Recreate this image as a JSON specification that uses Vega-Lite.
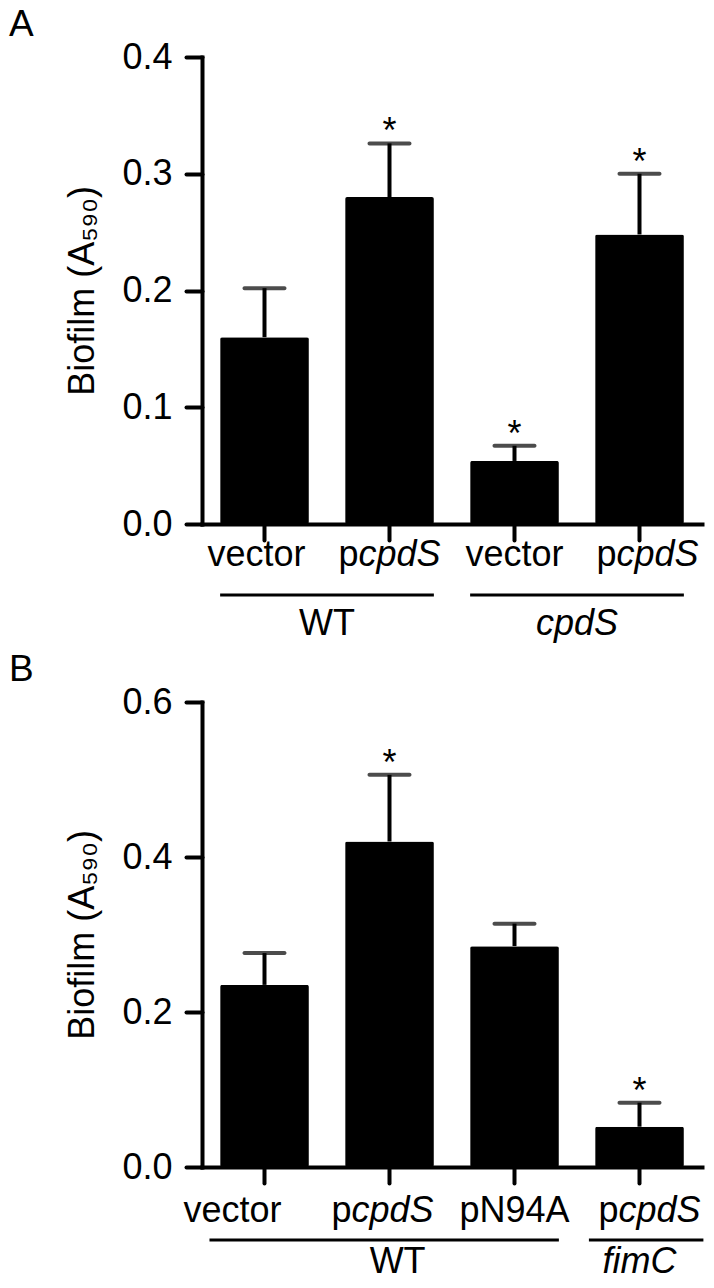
{
  "$schema": "https://vega.github.io/schema/vega-lite/v6.json",
  "background": "white",
  "padding": {"left": 8, "top": 6, "right": 4, "bottom": 0},
  "spacing": 9,
  "config": {
    "font": "Liberation Sans",
    "view": {"stroke": null},
    "axis": {
      "grid": false,
      "domainColor": "black",
      "domainWidth": 4,
      "domainCap": "square",
      "tickColor": "black",
      "tickWidth": 4,
      "tickSize": 16,
      "tickCap": "round",
      "labelFont": "Liberation Sans",
      "labelFontSize": 36,
      "labelColor": "black",
      "titleFont": "Liberation Sans",
      "titleFontSize": 36,
      "titleFontWeight": "normal",
      "titleColor": "black"
    },
    "axisX": {"labels": false, "title": null},
    "axisY": {"labelPadding": 14, "titlePadding": 20},
    "text": {"font": "Liberation Sans", "fontSize": 36, "color": "black"},
    "title": {"font": "Liberation Sans", "fontSize": 37, "fontWeight": "normal", "color": "black"}
  },
  "datasets": {
    "a": [
      {"id": "A1", "plain": "vector", "ital": "", "mean": 0.160, "err": 0.202, "sig": ""},
      {"id": "A2", "plain": "p", "ital": "cpdS", "mean": 0.280, "err": 0.326, "sig": "*"},
      {"id": "A3", "plain": "vector", "ital": "", "mean": 0.054, "err": 0.067, "sig": "*"},
      {"id": "A4", "plain": "p", "ital": "cpdS", "mean": 0.248, "err": 0.300, "sig": "*"}
    ],
    "ga": [
      {"group": "WT", "first": "A1", "last": "A2"},
      {"group": "cpdS", "first": "A3", "last": "A4"}
    ],
    "b": [
      {"id": "B1", "plain": "vector", "ital": "", "mean": 0.235, "err": 0.276, "sig": ""},
      {"id": "B2", "plain": "p", "ital": "cpdS", "mean": 0.420, "err": 0.506, "sig": "*"},
      {"id": "B3", "plain": "pN94A", "ital": "", "mean": 0.285, "err": 0.314, "sig": ""},
      {"id": "B4", "plain": "p", "ital": "cpdS", "mean": 0.052, "err": 0.083, "sig": "*"}
    ],
    "gb": [
      {"group": "WT", "first": "B1", "last": "B3"},
      {"group": "fimC", "first": "B4", "last": "B4"}
    ]
  },
  "vconcat": [
    {
      "title": {"text": "A", "anchor": "start", "frame": "bounds", "dx": -56, "offset": -5},
      "width": 500,
      "height": 467,
      "layer": [
        {
          "data": {"name": "a"},
          "mark": {"type": "bar", "color": "black", "cornerRadius": 2},
          "encoding": {
            "x": {"field": "id", "type": "nominal", "title": null, "scale": {"domain": ["A1", "A2", "A3", "A4"], "paddingInner": 0.29, "paddingOuter": 0.145}},
            "y": {"field": "mean", "type": "quantitative", "title": "Biofilm (A₅₉₀)", "scale": {"domain": [0, 0.4], "nice": false}, "axis": {"values": [0, 0.1, 0.2, 0.3, 0.4], "format": ".1f"}}
          }
        },
        {
          "data": {"name": "a"},
          "mark": {"type": "rule", "color": "black", "strokeWidth": 4},
          "encoding": {
            "x": {"field": "id", "type": "nominal", "title": null},
            "y": {"field": "mean", "type": "quantitative", "title": "Biofilm (A₅₉₀)"},
            "y2": {"field": "err"}
          }
        },
        {
          "data": {"name": "a"},
          "mark": {"type": "tick", "color": "black", "size": 44, "thickness": 4, "cornerRadius": 2},
          "encoding": {
            "x": {"field": "id", "type": "nominal", "title": null},
            "y": {"field": "err", "type": "quantitative", "title": "Biofilm (A₅₉₀)"}
          }
        },
        {
          "data": {"name": "a"},
          "transform": [{"filter": "datum.sig != ''"}],
          "mark": {"type": "text", "baseline": "alphabetic", "dy": 0},
          "encoding": {
            "x": {"field": "id", "type": "nominal", "title": null},
            "y": {"field": "err", "type": "quantitative", "title": "Biofilm (A₅₉₀)"},
            "text": {"field": "sig"}
          }
        },
        {
          "data": {"name": "a"},
          "transform": [{"filter": "datum.ital == '' && datum.id != 'A1'"}],
          "mark": {"type": "text", "baseline": "alphabetic", "dy": 42},
          "encoding": {
            "x": {"field": "id", "type": "nominal", "title": null},
            "y": {"datum": 0, "type": "quantitative"},
            "text": {"field": "plain"}
          }
        },
        {
          "data": {"name": "a"},
          "transform": [{"filter": "datum.id == 'A1'"}],
          "mark": {"type": "text", "baseline": "alphabetic", "dy": 42, "dx": -8},
          "encoding": {
            "x": {"field": "id", "type": "nominal", "title": null},
            "y": {"datum": 0, "type": "quantitative"},
            "text": {"field": "plain"}
          }
        },
        {
          "data": {"name": "a"},
          "transform": [{"filter": "datum.id == 'A2'"}],
          "mark": {"type": "text", "baseline": "alphabetic", "dy": 42, "align": "right", "dx": -31},
          "encoding": {
            "x": {"field": "id", "type": "nominal", "title": null},
            "y": {"datum": 0, "type": "quantitative"},
            "text": {"field": "plain"}
          }
        },
        {
          "data": {"name": "a"},
          "transform": [{"filter": "datum.id == 'A2'"}],
          "mark": {"type": "text", "baseline": "alphabetic", "dy": 42, "align": "left", "dx": -31, "fontStyle": "italic"},
          "encoding": {
            "x": {"field": "id", "type": "nominal", "title": null},
            "y": {"datum": 0, "type": "quantitative"},
            "text": {"field": "ital"}
          }
        },
        {
          "data": {"name": "a"},
          "transform": [{"filter": "datum.id == 'A4'"}],
          "mark": {"type": "text", "baseline": "alphabetic", "dy": 42, "align": "right", "dx": -23},
          "encoding": {
            "x": {"field": "id", "type": "nominal", "title": null},
            "y": {"datum": 0, "type": "quantitative"},
            "text": {"field": "plain"}
          }
        },
        {
          "data": {"name": "a"},
          "transform": [{"filter": "datum.id == 'A4'"}],
          "mark": {"type": "text", "baseline": "alphabetic", "dy": 42, "align": "left", "dx": -23, "fontStyle": "italic"},
          "encoding": {
            "x": {"field": "id", "type": "nominal", "title": null},
            "y": {"datum": 0, "type": "quantitative"},
            "text": {"field": "ital"}
          }
        },
        {
          "data": {"name": "ga"},
          "mark": {"type": "rule", "color": "black", "strokeWidth": 3, "yOffset": 71},
          "encoding": {
            "x": {"field": "first", "type": "nominal", "title": null, "bandPosition": 0},
            "x2": {"field": "last", "bandPosition": 1},
            "y": {"datum": 0, "type": "quantitative"}
          }
        },
        {
          "data": {"name": "ga"},
          "transform": [{"filter": "datum.group == 'WT'"}],
          "mark": {"type": "text", "baseline": "alphabetic", "dy": 111},
          "encoding": {
            "x": {"field": "first", "type": "nominal", "title": null, "bandPosition": 1.204},
            "y": {"datum": 0, "type": "quantitative"},
            "text": {"field": "group"}
          }
        },
        {
          "data": {"name": "ga"},
          "transform": [{"filter": "datum.group == 'cpdS'"}],
          "mark": {"type": "text", "baseline": "alphabetic", "dy": 111, "fontStyle": "italic"},
          "encoding": {
            "x": {"field": "first", "type": "nominal", "title": null, "bandPosition": 1.204},
            "y": {"datum": 0, "type": "quantitative"},
            "text": {"field": "group"}
          }
        }
      ]
    },
    {
      "title": {"text": "B", "anchor": "start", "frame": "bounds", "dx": -56, "offset": -5},
      "width": 500,
      "height": 465,
      "layer": [
        {
          "data": {"name": "b"},
          "mark": {"type": "bar", "color": "black", "cornerRadius": 2},
          "encoding": {
            "x": {"field": "id", "type": "nominal", "title": null, "scale": {"domain": ["B1", "B2", "B3", "B4"], "paddingInner": 0.29, "paddingOuter": 0.145}},
            "y": {"field": "mean", "type": "quantitative", "title": "Biofilm (A₅₉₀)", "scale": {"domain": [0, 0.6], "nice": false}, "axis": {"values": [0, 0.2, 0.4, 0.6], "format": ".1f"}}
          }
        },
        {
          "data": {"name": "b"},
          "mark": {"type": "rule", "color": "black", "strokeWidth": 4},
          "encoding": {
            "x": {"field": "id", "type": "nominal", "title": null},
            "y": {"field": "mean", "type": "quantitative", "title": "Biofilm (A₅₉₀)"},
            "y2": {"field": "err"}
          }
        },
        {
          "data": {"name": "b"},
          "mark": {"type": "tick", "color": "black", "size": 44, "thickness": 4, "cornerRadius": 2},
          "encoding": {
            "x": {"field": "id", "type": "nominal", "title": null},
            "y": {"field": "err", "type": "quantitative", "title": "Biofilm (A₅₉₀)"}
          }
        },
        {
          "data": {"name": "b"},
          "transform": [{"filter": "datum.sig != ''"}],
          "mark": {"type": "text", "baseline": "alphabetic", "dy": 0},
          "encoding": {
            "x": {"field": "id", "type": "nominal", "title": null},
            "y": {"field": "err", "type": "quantitative", "title": "Biofilm (A₅₉₀)"},
            "text": {"field": "sig"}
          }
        },
        {
          "data": {"name": "b"},
          "transform": [{"filter": "datum.id == 'B3'"}],
          "mark": {"type": "text", "baseline": "alphabetic", "dy": 55},
          "encoding": {
            "x": {"field": "id", "type": "nominal", "title": null},
            "y": {"datum": 0, "type": "quantitative"},
            "text": {"field": "plain"}
          }
        },
        {
          "data": {"name": "b"},
          "transform": [{"filter": "datum.id == 'B1'"}],
          "mark": {"type": "text", "baseline": "alphabetic", "dy": 55, "dx": -32},
          "encoding": {
            "x": {"field": "id", "type": "nominal", "title": null},
            "y": {"datum": 0, "type": "quantitative"},
            "text": {"field": "plain"}
          }
        },
        {
          "data": {"name": "b"},
          "transform": [{"filter": "datum.id == 'B2'"}],
          "mark": {"type": "text", "baseline": "alphabetic", "dy": 55, "align": "right", "dx": -38},
          "encoding": {
            "x": {"field": "id", "type": "nominal", "title": null},
            "y": {"datum": 0, "type": "quantitative"},
            "text": {"field": "plain"}
          }
        },
        {
          "data": {"name": "b"},
          "transform": [{"filter": "datum.id == 'B2'"}],
          "mark": {"type": "text", "baseline": "alphabetic", "dy": 55, "align": "left", "dx": -38, "fontStyle": "italic"},
          "encoding": {
            "x": {"field": "id", "type": "nominal", "title": null},
            "y": {"datum": 0, "type": "quantitative"},
            "text": {"field": "ital"}
          }
        },
        {
          "data": {"name": "b"},
          "transform": [{"filter": "datum.id == 'B4'"}],
          "mark": {"type": "text", "baseline": "alphabetic", "dy": 55, "align": "right", "dx": -21},
          "encoding": {
            "x": {"field": "id", "type": "nominal", "title": null},
            "y": {"datum": 0, "type": "quantitative"},
            "text": {"field": "plain"}
          }
        },
        {
          "data": {"name": "b"},
          "transform": [{"filter": "datum.id == 'B4'"}],
          "mark": {"type": "text", "baseline": "alphabetic", "dy": 55, "align": "left", "dx": -21, "fontStyle": "italic"},
          "encoding": {
            "x": {"field": "id", "type": "nominal", "title": null},
            "y": {"datum": 0, "type": "quantitative"},
            "text": {"field": "ital"}
          }
        },
        {
          "data": {"name": "gb"},
          "transform": [{"filter": "datum.group == 'WT'"}],
          "mark": {"type": "rule", "color": "black", "strokeWidth": 3, "yOffset": 73},
          "encoding": {
            "x": {"field": "first", "type": "nominal", "title": null, "bandPosition": -0.12},
            "x2": {"field": "last", "bandPosition": 1},
            "y": {"datum": 0, "type": "quantitative"}
          }
        },
        {
          "data": {"name": "gb"},
          "transform": [{"filter": "datum.group == 'fimC'"}],
          "mark": {"type": "rule", "color": "black", "strokeWidth": 3, "yOffset": 73},
          "encoding": {
            "x": {"field": "first", "type": "nominal", "title": null, "bandPosition": -0.07},
            "x2": {"field": "last", "bandPosition": 1.22},
            "y": {"datum": 0, "type": "quantitative"}
          }
        },
        {
          "data": {"name": "gb"},
          "transform": [{"filter": "datum.group == 'WT'"}],
          "mark": {"type": "text", "baseline": "alphabetic", "dy": 106},
          "encoding": {
            "x": {"field": "first", "type": "nominal", "title": null, "bandPosition": 2.0},
            "y": {"datum": 0, "type": "quantitative"},
            "text": {"field": "group"}
          }
        },
        {
          "data": {"name": "gb"},
          "transform": [{"filter": "datum.group == 'fimC'"}],
          "mark": {"type": "text", "baseline": "alphabetic", "dy": 106, "fontStyle": "italic"},
          "encoding": {
            "x": {"field": "first", "type": "nominal", "title": null, "bandPosition": 0.5},
            "y": {"datum": 0, "type": "quantitative"},
            "text": {"field": "group"}
          }
        }
      ]
    }
  ]
}
